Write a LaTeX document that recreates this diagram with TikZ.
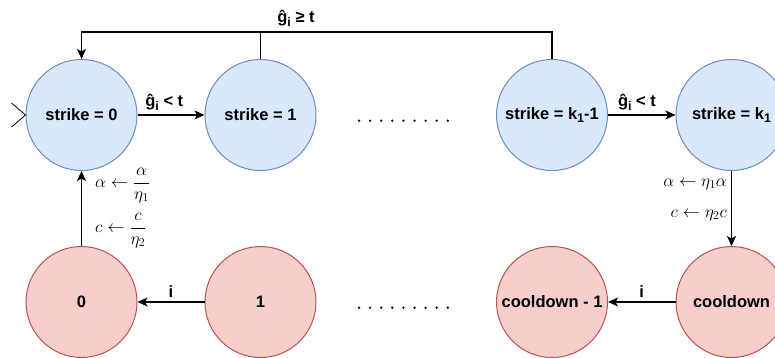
\documentclass[tikz,border=0pt]{standalone}
\usepackage{amsmath}
\usepackage[no-math]{fontspec}
\setmainfont{Liberation Sans}
\usepackage{tikz}
\usetikzlibrary{arrows.meta,positioning}
\definecolor{blueFill}{HTML}{DAE8FC}
\definecolor{blueLine}{HTML}{6C8EBF}
\definecolor{redFill}{HTML}{F8CECC}
\definecolor{redLine}{HTML}{B85450}
\newcommand{\lowsub}[1]{\raisebox{-0.45ex}{\fontsize{12.5}{13}\selectfont #1}}

\begin{document}
\begin{tikzpicture}[x=10pt,y=10pt]
                    \tikzstyle{every node}+=[inner sep=0pt,font=\fontsize{16.5}{18}\selectfont\bfseries]
                    \tikzstyle{strikeState}=[circle,draw=blueLine,fill=blueFill,line width=1pt,minimum size=111pt]
                    \tikzstyle{coolState}=[circle,draw=redLine,fill=redFill,line width=1pt,minimum size=111pt]
                    \tikzstyle{arr}=[-{Stealth[length=10pt,width=9pt,inset=2.5pt]},line width=1.2pt]
                    \tikzstyle{upd}=[font=\fontsize{18}{20}\selectfont]
                    \useasboundingbox (0,0) rectangle (77.5,-35.8);
                    \node [strikeState] (s0) at (8.15,-11.5) {strike = 0};
                    \node [strikeState] (s1) at (26.05,-11.5) {strike = 1};
                    \node [strikeState] (skm) at (55.2,-11.5) {strike = k\lowsub{1}-1};
                    \node [strikeState] (sk) at (73.15,-11.5) {strike = k\lowsub{1}};
                    \node [coolState] (c0) at (8.15,-30.2) {0};
                    \node [coolState] (c1) at (26.05,-30.2) {1};
                    \node [coolState] (ccm) at (55.2,-30.2) {cooldown - 1};
                    \node [coolState] (cc) at (73.15,-30.2) {cooldown};
                    \draw [line width=0.8pt] ([shift={(-14pt,12pt)}]s0.west) -- (s0.west) -- ([shift={(-14pt,-12pt)}]s0.west);
                    \coordinate (top) at (29.6,-3.2);
                    \draw [arr] (skm.north) |- (top) -| (s0.north);
                    \draw [line width=1.2pt] (s1.north) -- (s1.north |- top);
                    \node (geqLbl) [above=5pt of top] {ĝ\lowsub{i} ≥ t};
                    \draw [arr] (s0) -- node [above=4pt, pos=0.4] {ĝ\lowsub{i} < t} (s1);
                    \draw [arr] (skm) -- node [above=4pt, pos=0.43] {ĝ\lowsub{i} < t} (sk);
                    \draw [arr] (c1) -- node [above=4pt] {i} (c0);
                    \draw [arr] (cc) -- node [above=4pt] {i} (ccm);
                    \draw [arr] (c0) -- (s0);
                    \draw [arr] (sk) -- (cc);
                    \node (updA0) [upd, anchor=west] at (9.5,-18.55) {$\alpha \leftarrow \dfrac{\alpha}{\eta_1}$};
                    \node (updC0) [upd, anchor=west] at (9.5,-23.05) {$c \leftarrow \dfrac{c}{\eta_2}$};
                    \node (updAk) [upd, anchor=east] at (72.7,-18.4) {$\alpha \leftarrow \eta_1\alpha$};
                    \node (updCk) [upd, anchor=east] at (72.7,-21.5) {$c \leftarrow \eta_2 c$};
                    \foreach \x in {0,...,8} {
                        \fill (35.9+1.11*\x,-12.07) circle (1.3pt);
                        \fill (35.9+1.11*\x,-30.77) circle (1.3pt);
                    }
                \end{tikzpicture}
\end{document}
